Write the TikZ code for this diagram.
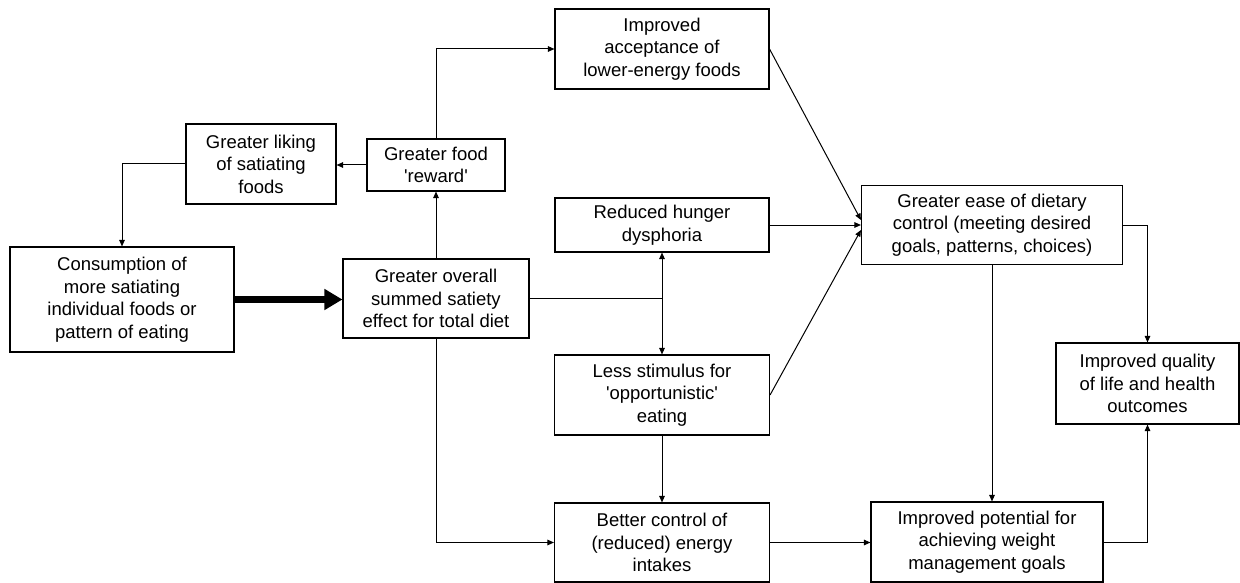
\documentclass[tikz,border=0pt]{standalone}
\usepackage{fontspec}
\setmainfont{Liberation Sans}
\usetikzlibrary{arrows.meta,calc}
\begin{document}
\begin{tikzpicture}[x=1pt,y=-1pt,
  box/.style={draw, line width=1.1pt, align=center, inner sep=0pt, font=\fontsize{18.5}{22.5}\selectfont},
  arr/.style={line width=1pt, -{Triangle[length=6.5pt,width=5.5pt]}},
  plain/.style={line width=1pt},
  thickarr/.style={line width=7pt, -{Triangle[length=18pt,width=20pt]}}]
\useasboundingbox (0,0) rectangle (1240,583);
\node[box, minimum width=214pt, minimum height=80pt] (IA) at (662,49) {Improved\\acceptance of\\lower-energy foods};
\node[box, minimum width=150pt, minimum height=80pt] (GL) at (261,164) {Greater liking\\of satiating\\foods};
\node[box, minimum width=138pt, minimum height=52pt] (GF) at (436,165) {Greater food\\\textquotesingle reward\textquotesingle};
\node[box, minimum width=214pt, minimum height=54pt] (RH) at (662,225) {Reduced hunger\\dysphoria};
\node[box, minimum width=261pt, minimum height=79pt] (GE) at (992,225) {Greater ease of dietary\\control (meeting desired\\goals, patterns, choices)};
\node[box, minimum width=224pt, minimum height=105pt] (CO) at (122,299.5) {Consumption of\\more satiating\\individual foods or\\pattern of eating};
\node[box, minimum width=186pt, minimum height=79pt] (GO) at (436,298.5) {Greater overall\\summed satiety\\effect for total diet};
\node[box, minimum width=215pt, minimum height=80pt] (LS) at (662,395) {Less stimulus for\\\textquotesingle opportunistic\textquotesingle\\eating};
\node[box, minimum width=183pt, minimum height=81pt] (IQ) at (1147.5,383.5) {Improved quality\\of life and health\\outcomes};
\node[box, minimum width=215pt, minimum height=79pt] (BC) at (662,542.5) {Better control of\\(reduced) energy\\intakes};
\node[box, minimum width=232pt, minimum height=80pt] (IP) at (987,542) {Improved potential for\\achieving weight\\management goals};

\draw[thickarr] (CO.east) -- (CO.east -| GO.west);
\draw[arr] (GO.north) -- (GF.south);
\draw[arr] (GF.west) -- (GF.west -| GL.east);
\draw[arr] (GL.west) -| (CO.north);
\draw[arr] (GF.north) |- (IA.west);
\draw[arr] (GO.east) -| (RH.south);
\draw[arr] (GO.east) -| (LS.north);
\draw[arr] (GO.south) |- (BC.west);
\draw[arr] (IA.east) -- ([yshift=5pt]GE.west);
\draw[arr] (RH.east) -- (RH.east -| GE.west);
\draw[arr] (LS.east) -- ([yshift=-5pt]GE.west);
\draw[arr] (LS.south) -- (BC.north);
\draw[arr] (BC.east) -- (BC.east -| IP.west);
\draw[arr] (GE.south) -- (GE.south |- IP.north);
\draw[arr] (GE.east) -| (IQ.north);
\draw[arr] (IP.east) -| (IQ.south);
\end{tikzpicture}
\end{document}
